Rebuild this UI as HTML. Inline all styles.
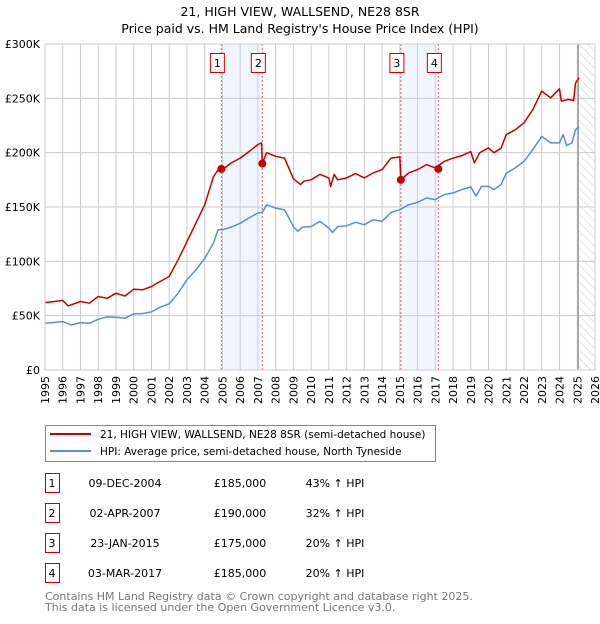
<!DOCTYPE html>
<html><head><meta charset="utf-8"><style>
body{margin:0;background:#fff;font-family:"DejaVu Sans","Liberation Sans",sans-serif;}
svg text{font-family:"DejaVu Sans","Liberation Sans",sans-serif;}
</style></head><body>
<svg id="c" width="600" height="620" viewBox="0 0 600 620" xmlns="http://www.w3.org/2000/svg">
<defs><pattern id="hatch" width="6" height="6" patternUnits="userSpaceOnUse" patternTransform="rotate(-45)"><line x1="0" y1="0" x2="0" y2="6" stroke="#ccc" stroke-width="1"/></pattern></defs>
<text x="300" y="16" text-anchor="middle" font-size="12.5">21, HIGH VIEW, WALLSEND, NE28 8SR</text>
<text x="300" y="33" text-anchor="middle" font-size="12.5">Price paid vs. HM Land Registry's House Price Index (HPI)</text>
<g id="plot"></g>
<g>
<rect x="45.5" y="425.5" width="390" height="36" fill="#fff" stroke="#888"/>
<line x1="50" y1="434" x2="91" y2="434" stroke="#cc0000" stroke-width="2"/>
<text x="100" y="438" font-size="10.5">21, HIGH VIEW, WALLSEND, NE28 8SR (semi-detached house)</text>
<line x1="50" y1="451" x2="91" y2="451" stroke="#5b8fd4" stroke-width="2"/>
<text x="100" y="455" font-size="10.5">HPI: Average price, semi-detached house, North Tyneside</text>
</g>
<g id="table" font-size="11"></g>
<text x="45" y="600" font-size="11" fill="#777">Contains HM Land Registry data © Crown copyright and database right 2025.</text>
<text x="45" y="611" font-size="11" fill="#777">This data is licensed under the Open Government Licence v3.0.</text>
</svg>
<script>
const hpiYears=[1995,1996,1996.5,1997,1997.5,1998,1998.5,1999,1999.5,2000,2000.5,2001,2001.5,2002,2002.5,2003,2003.5,2004,2004.5,2004.75,2005,2005.5,2006,2006.5,2007,2007.25,2007.5,2008,2008.5,2009,2009.25,2009.5,2010,2010.5,2011,2011.2,2011.5,2012,2012.5,2013,2013.5,2014,2014.5,2015,2015.5,2016,2016.5,2017,2017.5,2018,2018.5,2019,2019.3,2019.6,2020,2020.3,2020.7,2021,2021.5,2022,2022.5,2023,2023.5,2024,2024.2,2024.4,2024.7,2024.9,2025.1];
const hpiValues=[43,44.5,41.5,43.6,43,46.7,49,48.6,47.6,51.6,52,53.5,57.8,60.9,70.7,83,92,102.7,116.8,129,129,131.5,135,140,144.5,145,152,149,147.5,132,127.6,131.5,132,136.8,130.6,126.6,132,132.8,135.9,133.7,138.3,136.8,145,147.5,152,154.3,158.3,156.8,161.4,163,166,168.5,160,169,169,166,170.6,181,186,192,203,215,209,209,216.7,206.6,209,221,224];
const priceYears=[1995,1996,1996.3,1997,1997.5,1998,1998.5,1999,1999.5,2000,2000.5,2001,2001.5,2002,2002.5,2003,2003.5,2004,2004.5,2004.75,2005,2005.5,2006,2006.5,2007,2007.2,2007.25,2007.5,2008,2008.5,2009,2009.4,2009.6,2010,2010.5,2011,2011.1,2011.3,2011.5,2012,2012.5,2013,2013.5,2014,2014.5,2015,2015.06,2015.5,2016,2016.5,2017,2017.5,2018,2018.5,2019,2019.2,2019.5,2020,2020.3,2020.7,2021,2021.5,2022,2022.5,2023,2023.5,2024,2024.1,2024.5,2024.8,2024.9,2025.1];
const priceValues=[62,64,59,63,61.5,67.6,66,70.7,68,74.4,73.8,76.8,81.5,86,101.4,118,135,152,178,184,184.4,190.6,195,201,207.5,209,190.6,200,196.7,195,176,170.6,173.7,175,180,176.8,169,180,175,176.8,180.7,176.8,181.4,184.4,195,196,175,181.4,184.4,189,186,192,195,197.3,201,190.6,200,204.4,200,204,216.7,221,227.5,239.8,256.7,250.5,258.8,247.5,249,248,264,269];
const saleLabels=["1","2","3","4"];
const saleYears=[2004.94,2007.25,2015.06,2017.17];
const salePrices=[185,190,175,185];
const saleDates=["09-DEC-2004","02-APR-2007","23-JAN-2015","03-MAR-2017"];
const salePriceText=["£185,000","£190,000","£175,000","£185,000"];
const saleHpiText=["43% ↑ HPI","32% ↑ HPI","20% ↑ HPI","20% ↑ HPI"];
const yTicks=[0,50,100,150,200,250,300];
const yTickLabels=["£0","£50K","£100K","£150K","£200K","£250K","£300K"];
const xTicks=[1995,1996,1997,1998,1999,2000,2001,2002,2003,2004,2005,2006,2007,2008,2009,2010,2011,2012,2013,2014,2015,2016,2017,2018,2019,2020,2021,2022,2023,2024,2025,2026];

const NS="http://www.w3.org/2000/svg";
const L=45,R=595,T=44,B=370;
const X=y=>L+(y-1995)/(2026-1995)*(R-L);
const Y=v=>B-v/300*(B-T);
function mk(tag,attrs,parent){const e=document.createElementNS(NS,tag);for(const k in attrs)e.setAttribute(k,attrs[k]);parent.appendChild(e);return e;}
const g=document.getElementById('plot');
for(let i=0;i<4;i+=2){const r=mk('rect',{x:X(saleYears[i]),y:T,width:X(saleYears[i+1])-X(saleYears[i]),height:B-T,fill:'#eef3fc',opacity:0.8},g);

}
const hx=X(2025.05);
const hr=mk('rect',{x:hx,y:T,width:R-hx,height:B-T,fill:'url(#hatch)'},g);


yTicks.forEach((v,i)=>{const l=mk('line',{x1:L,x2:R,y1:Y(v),y2:Y(v),stroke:'#ccc'},g);


const t=mk('text',{x:L-5,y:Y(v)+4,'text-anchor':'end','font-size':11},g);t.textContent=yTickLabels[i];

});
xTicks.forEach(yr=>{const l=mk('line',{x1:X(yr),x2:X(yr),y1:T,y2:B,stroke:'#ccc'},g);


const t=mk('text',{x:0,y:0,'text-anchor':'end','font-size':11,transform:`translate(${X(yr)+4},${B+6}) rotate(-90)`},g);t.textContent=yr;

});
const vl=mk('line',{x1:hx,x2:hx,y1:T,y2:B,stroke:'#999','stroke-width':1.5},g);


saleYears.forEach((yr,i)=>{const l=mk('line',{x1:X(yr),x2:X(yr),y1:T,y2:B,stroke:'#e06666','stroke-dasharray':'2,2'},g);


const r=mk('rect',{x:X(yr)-11,y:53.5,width:14,height:19,fill:'#fff',stroke:'#cc0000'},g);


const t=mk('text',{x:X(yr)-4,y:67,'text-anchor':'middle','font-size':11},g);t.textContent=saleLabels[i];

});
function path(xs,vs,col,name){const d=xs.map((x,i)=>(i?'L':'M')+X(x).toFixed(1)+','+Y(vs[i]).toFixed(1)).join('');
const p=mk('path',{d:d,fill:'none',stroke:col,'stroke-width':1.5,'stroke-linejoin':'round'},g);

}
path(hpiYears,hpiValues,'#5b8fd4','hpi-line');
path(priceYears,priceValues,'#cc0000','price-paid-line');
saleYears.forEach((yr,i)=>{const c=mk('circle',{cx:X(yr),cy:Y(salePrices[i]),r:4,fill:'#cc0000'},g);

});
const bx=mk('rect',{x:L,y:T,width:R-L,height:B-T,fill:'none',stroke:'#ccc'},g);


const tb=document.getElementById('table');
saleLabels.forEach((s,i)=>{const cy=483+i*30;
const r=mk('rect',{x:45.5,y:cy-9.5,width:14,height:19,fill:'#fff',stroke:'#cc0000'},tb);


const vals=[[52,s,'middle'],[125,saleDates[i],'middle'],[240,salePriceText[i],'middle'],[335,saleHpiText[i],'middle']];
vals.forEach(([x,txt,a],j)=>{const t=mk('text',{x:x,y:cy+4,'text-anchor':a},tb);t.textContent=txt;

});});
</script>
</body></html>
